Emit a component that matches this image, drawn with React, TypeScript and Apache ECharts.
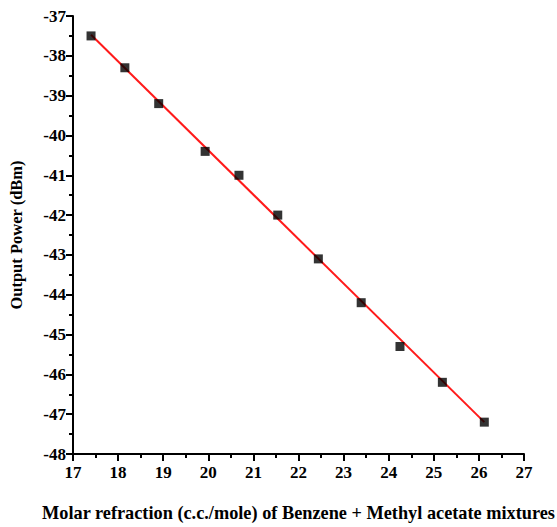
import React, { useEffect, useRef } from "react";
import * as echarts from "echarts";

// Molar refraction (c.c./mole) of the mixtures
const molarRefraction = [17.4, 18.15, 18.9, 19.93, 20.68, 21.54, 22.44, 23.39, 24.25, 25.19, 26.12];
// Measured output power (dBm)
const outputPower = [-37.5, -38.3, -39.2, -40.4, -41.0, -42.0, -43.1, -44.2, -45.3, -46.2, -47.2];
// Linear fit end points
const fitX = [17.4, 26.12];
const fitY = [-37.47, -47.2];

const FONT = "'Liberation Serif', 'Times New Roman', serif";

export default function App() {
  const ref = useRef<HTMLDivElement>(null);

  useEffect(() => {
    if (!ref.current) return;
    const chart = echarts.init(ref.current, undefined, { renderer: "svg" });
    const axisLine = { show: true, onZero: false, lineStyle: { color: "#000", width: 2 } };
    const label = { color: "#000", fontFamily: FONT, fontWeight: "bold" as const, fontSize: 17 };
    const tick = { show: true, length: 7, lineStyle: { color: "#000", width: 2 } };
    const minor = { show: true, splitNumber: 2, length: 4, lineStyle: { color: "#000", width: 2 } };
    chart.setOption({
      animation: false,
      backgroundColor: "#fff",
      grid: { left: 70, right: 33, top: 16, bottom: 71, containLabel: false },
      xAxis: {
        type: "value",
        min: 17,
        max: 27,
        interval: 1,
        name: "Molar refraction (c.c./mole) of Benzene + Methyl acetate mixtures",
        nameLocation: "middle",
        nameGap: 50,
        nameTextStyle: { ...label, fontSize: 18.3 },
        axisLine,
        axisTick: tick,
        minorTick: minor,
        axisLabel: { ...label, margin: 10 },
        splitLine: { show: false },
      },
      yAxis: {
        type: "value",
        min: -48,
        max: -37,
        interval: 1,
        name: "Output Power (dBm)",
        nameLocation: "middle",
        nameGap: 48,
        nameTextStyle: { ...label, fontSize: 16.5 },
        axisLine,
        axisTick: tick,
        minorTick: minor,
        axisLabel: { ...label, margin: 7 },
        splitLine: { show: false },
      },
      series: [
        {
          type: "line",
          data: fitX.map((x, i) => [x, fitY[i]]),
          showSymbol: false,
          symbol: "none",
          lineStyle: { color: "#ff1a1a", width: 2 },
          z: 2,
        },
        {
          type: "scatter",
          data: molarRefraction.map((x, i) => [x, outputPower[i]]),
          symbol: "rect",
          symbolSize: 9,
          itemStyle: { color: "#000" },
          z: 3,
        },
      ],
    });
    return () => chart.dispose();
  }, []);

  return <div ref={ref} style={{ width: 557, height: 527, position: "absolute", left: 0, top: 0 }} />;
}
